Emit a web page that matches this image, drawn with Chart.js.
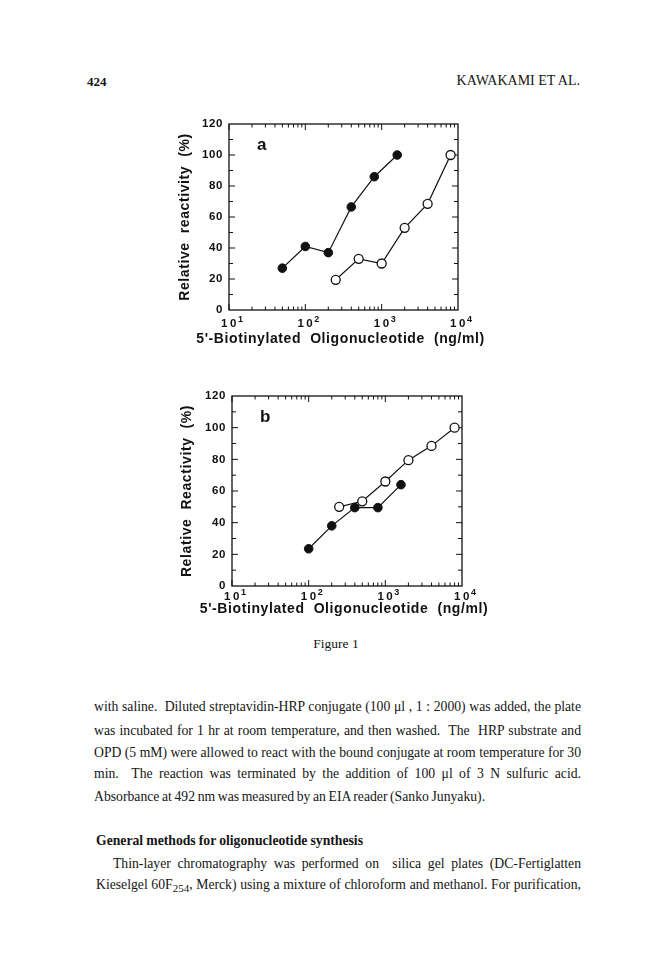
<!DOCTYPE html>
<html>
<head>
<meta charset="utf-8">
<script src="https://cdn.jsdelivr.net/npm/chart.js@4.4.0/dist/chart.umd.min.js"></script>
<style>
body{margin:0;background:#fff;width:672px;height:959px;position:relative;overflow:hidden;font-family:"Liberation Serif","Times New Roman",serif;color:#151515}
.abs{position:absolute}
.ln{position:absolute;left:94px;width:487px;font-size:13.7px;word-spacing:-0.8px;line-height:22px;height:22px;text-align:justify;text-align-last:justify}
.last{text-align-last:left}
</style>
</head>
<body>
<div class="abs" style="left:87px;top:74px;font-size:13px;font-weight:bold">424</div>
<div class="abs" style="right:92px;top:73px;font-size:14px">KAWAKAMI ET AL.</div>

<div class="abs" style="left:170px;top:110px"><canvas id="chartA" width="330" height="250"></canvas></div>
<div class="abs" style="left:172px;top:382px"><canvas id="chartB" width="330" height="250"></canvas></div>

<div class="abs" style="left:0;width:672px;top:636px;text-align:center;font-size:13.5px">Figure 1</div>

<div class="ln" style="top:696px">with saline.&nbsp; Diluted streptavidin-HRP conjugate (100 μl , 1 : 2000) was added, the plate</div>
<div class="ln" style="top:720px">was incubated for 1 hr at room temperature, and then washed.&nbsp; The&nbsp; HRP substrate and</div>
<div class="ln" style="top:742px">OPD (5 mM) were allowed to react with the bound conjugate at room temperature for 30</div>
<div class="ln" style="top:763px">min.&nbsp; The reaction was terminated by the addition of 100 μl of 3 N sulfuric acid.</div>
<div class="ln last" style="top:786px">Absorbance at 492 nm was measured by an EIA reader (Sanko Junyaku).</div>

<div class="ln last" style="top:830px;left:96px;font-weight:bold;word-spacing:-0.3px">General methods for oligonucleotide synthesis</div>
<div class="ln" style="top:853px;left:113px;width:468px">Thin-layer chromatography was performed on&nbsp; silica gel plates (DC-Fertiglatten</div>
<div class="ln" style="top:874px;left:96px;width:485px">Kieselgel 60F<span style="font-size:11px;vertical-align:-3px">254</span>, Merck) using a mixture of chloroform and methanol. For purification,</div>

<script>
// panel a
const concAFilled = [50, 100, 200, 400, 800, 1600];
const reactAFilled = [27, 41, 37, 66.5, 86, 100];
const concAOpen = [250, 500, 1000, 2000, 4000, 8000];
const reactAOpen = [19.5, 33, 30, 53, 68.5, 100];
// panel b
const concBFilled = [100, 200, 400, 800, 1600];
const reactBFilled = [23.5, 38, 49.5, 49.5, 64];
const concBOpen = [250, 500, 1000, 2000, 4000, 8000];
const reactBOpen = [50, 53.5, 66, 79.5, 88.5, 100];

const decadeValues = [10, 100, 1000, 10000];
const decadeExp = ['1', '2', '3', '4'];
const yTickValues = [0, 20, 40, 60, 80, 100, 120];
const xTitle = "5'-Biotinylated  Oligonucleotide  (ng/ml)";

const sans = '"Liberation Sans", Arial, sans-serif';

function pts(xs, ys) {
    return xs.map((x, i) => ({ x: x, y: ys[i] }));
}

// box round the plot, inward ticks on all four sides, decade labels as 10^n
const frame = {
    id: 'frame',
    beforeDraw(chart) {
        chart.ctx.letterSpacing = '0.6px';
    },
    beforeDatasetsDraw(chart, args, opts) {
        const { ctx, chartArea: a, scales: { x, y } } = chart;
        ctx.save();
        ctx.strokeStyle = '#111';
        ctx.lineWidth = 1.3;
        ctx.strokeRect(a.left, a.top, a.right - a.left, a.bottom - a.top);
        ctx.lineWidth = 1;
        ctx.beginPath();
        for (let d = 10; d < 10000; d *= 10) {
            for (let m = 1; m < 10; m++) {
                const px = x.getPixelForValue(m * d);
                const len = m == 1 ? 6 : 3.5;
                ctx.moveTo(px, a.bottom); ctx.lineTo(px, a.bottom - len);
                ctx.moveTo(px, a.top); ctx.lineTo(px, a.top + len);
            }
        }
        for (let v = 10; v < 120; v += 10) {
            const py = y.getPixelForValue(v);
            const len = v % 20 == 0 ? 6 : 4;
            ctx.moveTo(a.left, py); ctx.lineTo(a.left + len, py);
            ctx.moveTo(a.right, py); ctx.lineTo(a.right - len, py);
        }
        ctx.stroke();

        ctx.fillStyle = '#111';
        ctx.letterSpacing = '0px';
        ctx.font = 'bold 17px ' + sans;
        ctx.textBaseline = 'middle';
        ctx.textAlign = 'left';
        ctx.fillText(opts.letter, a.left + 28, a.top + 21);

        // x tick labels
        decadeValues.forEach((v, i) => {
            const px = x.getPixelForValue(v);
            ctx.letterSpacing = '2.5px';
            ctx.font = 'bold 11.5px ' + sans;
            ctx.textAlign = 'center';
            ctx.textBaseline = 'alphabetic';
            ctx.fillText('10', px + 1, a.bottom + opts.labelOffset);
            ctx.letterSpacing = '0px';
            ctx.font = 'bold 9px ' + sans;
            ctx.textAlign = 'left';
            ctx.fillText(decadeExp[i], px + 9, a.bottom + opts.labelOffset - 5);
        });

        // x title, wider than the plot so drawn here without a max width
        ctx.letterSpacing = '0.6px';
        ctx.font = 'bold 14px ' + sans;
        ctx.textAlign = 'center';
        ctx.textBaseline = 'middle';
        ctx.fillText(xTitle, (a.left + a.right) / 2 - 3, a.bottom + opts.titleOffset);
        ctx.restore();
    }
};

function makeChart(id, filled, open, yTitle, letter, yWidth, xHeight, padRight, labelOffset, titleOffset) {
    new Chart(document.getElementById(id), {
        type: 'scatter',
        data: {
            datasets: [{
                data: filled,
                showLine: true,
                borderColor: '#111',
                borderWidth: 1.2,
                pointRadius: 4.3,
                pointBackgroundColor: '#111',
                pointBorderColor: '#111',
                pointBorderWidth: 1
            }, {
                data: open,
                showLine: true,
                borderColor: '#111',
                borderWidth: 1.2,
                pointRadius: 4.5,
                pointBackgroundColor: '#fff',
                pointBorderColor: '#111',
                pointBorderWidth: 1.3
            }]
        },
        options: {
            responsive: false,
            animation: false,
            layout: { padding: { top: 14, right: padRight, left: 0, bottom: 0 } },
            plugins: {
                legend: { display: false },
                tooltip: { enabled: false },
                frame: { letter: letter, labelOffset: labelOffset, titleOffset: titleOffset }
            },
            scales: {
                x: {
                    type: 'logarithmic',
                    min: 10,
                    max: 10000,
                    grid: { display: false, drawTicks: false },
                    border: { display: false },
                    afterBuildTicks: s => { s.ticks = decadeValues.map(v => ({ value: v })); },
                    afterFit: s => { s.height = xHeight; },
                    ticks: { display: false }
                },
                y: {
                    min: 0,
                    max: 120,
                    grid: { display: false, drawTicks: false },
                    border: { display: false },
                    afterBuildTicks: s => { s.ticks = yTickValues.map(v => ({ value: v })); },
                    afterFit: s => { s.width = yWidth; },
                    ticks: {
                        color: '#111',
                        padding: 6,
                        font: { family: sans, size: 11.5, weight: 'bold' }
                    },
                    title: {
                        display: true,
                        text: yTitle,
                        color: '#111',
                        padding: { top: 7, bottom: 0 },
                        font: { family: sans, size: 14, weight: 'bold' }
                    }
                }
            }
        },
        plugins: [frame]
    });
}

makeChart('chartA', pts(concAFilled, reactAFilled), pts(concAOpen, reactAOpen),
    'Relative  reactivity  (%)', 'a', 59, 50, 42, 17, 29);
makeChart('chartB', pts(concBFilled, reactBFilled), pts(concBOpen, reactBOpen),
    'Relative  Reactivity  (%)', 'b', 60, 46, 40, 14, 23.5);
</script>
</body>
</html>
